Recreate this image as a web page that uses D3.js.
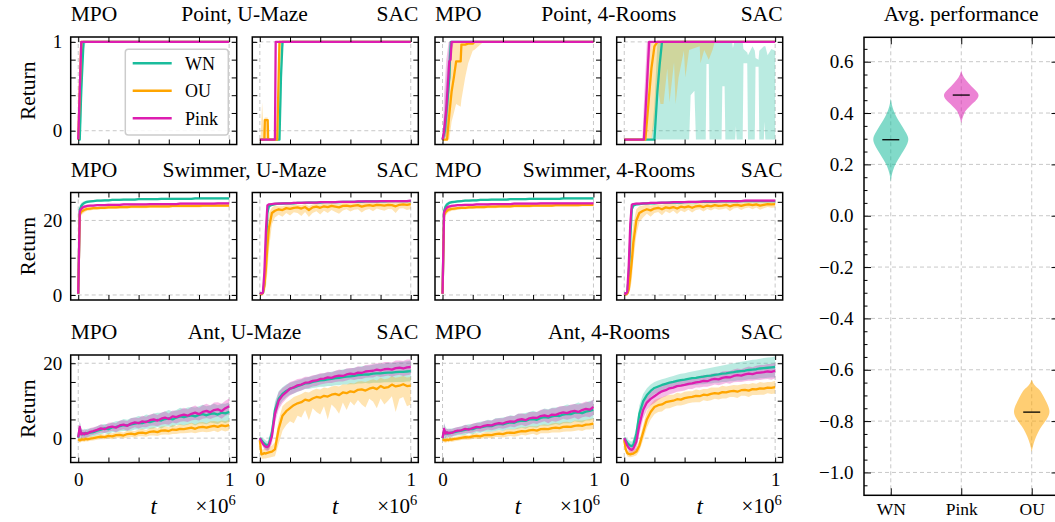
<!DOCTYPE html>
<html><head><meta charset="utf-8">
<script src="https://cdn.jsdelivr.net/npm/d3@7"></script>
<style>
body{margin:0;background:#fff;}
svg text{font-family:"Liberation Serif","Times New Roman",serif;fill:#000;}
</style></head><body>
<svg id="c" width="1055" height="522"></svg>
<script>
// ---------------- DATA ----------------
const seriesNames = ["WN", "OU", "Pink"];
const violinCats = ["WN", "Pink", "OU"];
const envTitles = [["Point, U-Maze", "Point, 4-Rooms"], ["Swimmer, U-Maze", "Swimmer, 4-Rooms"], ["Ant, U-Maze", "Ant, 4-Rooms"]];
const algoLeft = "MPO", algoRight = "SAC";
const rowTicks = [[0,0.2,0.4,0.6,0.8,1],[0,5,10,15,20,25],[-5,0,5,10,15,20]];
const rowLabels = [[0,1],[0,20],[0,20]];
const xTicks = [0,0.2,0.4,0.6,0.8,1];
const xLabels = [0,1];
const violinMajor = [-1.0,-0.8,-0.6,-0.4,-0.2,0.0,0.2,0.4,0.6];

// Point panels: rows [t, mean, lo, hi]
const ptUmMpoWN = [[0,-0.1,-0.1,-0.1],[0.01,-0.1,-0.1,0.2],[0.02,0.45,0.1,0.9],[0.035,1,0.9,1],[0.05,1,1,1],[1,1,1,1]];
const ptUmMpoOU = [[0,-0.1,-0.1,-0.1],[0.02,1,0.9,1],[0.03,1,1,1],[1,1,1,1]];
const ptUmMpoPink = [[0,-0.1,-0.1,-0.1],[0.02,1,1,1],[1,1,1,1]];

const ptUmSacWN = [[0,-0.1,-0.1,-0.1],[0.12,-0.1,-0.1,-0.1],[0.13,-0.1,-0.1,0.4],[0.14,0.6,0.2,1],[0.15,1,0.9,1],[0.16,1,1,1],[1,1,1,1]];
const ptUmSacOU = [[0,-0.1,-0.1,-0.1],[0.005,-0.1,-0.1,-0.1],[0.015,-0.1,-0.1,0.32],[0.025,-0.1,-0.1,0.0],[0.03,-0.1,-0.1,0.14],[0.033,0.12,-0.1,0.15],[0.052,0.12,-0.1,0.15],[0.055,-0.1,-0.1,-0.1],[0.115,-0.1,-0.1,-0.1],[0.13,1,0.6,1],[0.14,1,1,1],[1,1,1,1]];
const ptUmSacPink = [[0,-0.1,-0.1,-0.1],[0.1,-0.1,-0.1,-0.1],[0.105,1,1,1],[1,1,1,1]];

const ptFrMpoWN = [[0,-0.1,-0.1,-0.1],[0.015,0.0,-0.1,0.3],[0.03,0.3,0.0,0.7],[0.045,0.6,0.3,1],[0.05,0.85,0.6,1],[0.056,1,0.9,1],[0.07,1,1,1],[1,1,1,1]];
const ptFrMpoOU = [[0,-0.1,-0.1,-0.1],[0.03,-0.1,-0.1,0.3],[0.045,0.19,-0.1,0.7],[0.06,0.44,0.1,0.95],[0.075,0.6,0.2,1],[0.09,0.78,0.3,1],[0.12,0.78,0.27,1],[0.125,0.97,0.35,1],[0.15,0.97,0.6,1],[0.17,0.98,0.76,1],[0.2,0.98,0.9,1],[0.21,1,0.91,1],[0.27,1,1,1],[1,1,1,1]];
const ptFrMpoPink = [[0,-0.1,-0.1,-0.1],[0.01,0.0,-0.1,0.4],[0.025,0.25,-0.05,0.8],[0.04,0.65,0.3,1],[0.045,0.78,0.5,1],[0.053,0.8,0.6,1],[0.06,1,0.9,1],[0.075,1,1,1],[1,1,1,1]];

const ptFrSacWN = [[0,-0.1,-0.1,-0.1],[0.18,-0.1,-0.1,-0.1],[0.2,-0.1,-0.1,0.3],[0.22,0.45,-0.1,1],[0.235,0.75,-0.1,1],[0.25,1,-0.1,1],
 [0.43,1,-0.1,1],[0.44,1,0.4,1],[0.465,1,0.45,1],[0.475,1,-0.1,1],
 [0.54,1,-0.1,1],[0.545,1,0.75,1],[0.56,1,0.75,1],[0.565,1,-0.1,1],
 [0.645,1,-0.1,1],[0.65,1,0.5,1],[0.665,1,0.5,1],[0.67,1,-0.1,1],
 [0.715,1,-0.1,1],[0.72,1,-0.1,0.93],[0.73,1,-0.1,1],
 [0.735,1,-0.1,1],[0.74,1,0.05,1],[0.745,1,-0.1,1],
 [0.785,1,-0.1,1],[0.79,1,0.76,0.92],[0.815,1,0.76,0.88],[0.82,1,-0.1,0.85],
 [0.85,1,-0.1,0.95],[0.865,1,-0.1,0.9],[0.87,1,0.72,0.82],[0.89,1,0.72,0.8],[0.895,1,-0.1,0.9],
 [0.925,1,-0.1,0.95],[0.93,1,0.1,0.95],[0.935,1,-0.1,0.95],[0.95,1,-0.1,0.85],[0.975,1,-0.1,0.92],[1,1,-0.1,0.9]];
const ptFrSacOU = [[0,-0.1,-0.1,-0.1],[0.14,-0.1,-0.1,-0.1],[0.16,0.3,-0.1,0.8],[0.18,0.7,-0.1,1],[0.2,0.95,0.1,1],[0.22,1,0.5,1],[0.24,1,0.3,1],[0.26,1,0.3,1],[0.285,1,0.7,1],[0.3,1,0.32,1],[0.33,1,0.77,1],[0.34,1,0.3,1],[0.36,1,0.6,1],[0.395,1,0.9,1],[0.405,1,0.6,1],[0.43,1,0.91,1],[0.5,1,0.95,1],[0.505,1,0.76,1],[0.53,1,0.91,1],[0.56,1,0.8,1],[0.585,1,0.91,1],[0.6,1,1,1],[1,1,1,1]];
const ptFrSacPink = [[0,-0.1,-0.1,-0.1],[0.12,-0.1,-0.1,-0.1],[0.13,-0.1,-0.1,0.3],[0.15,0.5,0.1,1],[0.165,1,0.8,1],[0.18,1,1,1],[1,1,1,1]];

// Swimmer / Ant panels share this time grid (x 1e6)
const tGrid = [0,0.01,0.02,0.03,0.04,0.05,0.06,0.08,0.1,
 0.125,0.15,0.175,0.2,0.225,0.25,0.275,0.3,0.325,0.35,0.375,0.4,
 0.425,0.45,0.475,0.5,0.525,0.55,0.575,0.6,0.625,0.65,0.675,0.7,
 0.725,0.75,0.775,0.8,0.825,0.85,0.875,0.9,0.925,0.95,0.975,1];

// Swimmer, MPO
const swUmMpoWN = [0.3,22.8,23.9,24.4,24.7,24.9,25.0,25.1,25.2,
 25.3,25.3,25.4,25.4,25.5,25.5,25.5,25.6,25.6,25.6,25.6,25.7,
 25.7,25.7,25.7,25.7,25.7,25.8,25.8,25.8,25.8,25.8,25.8,25.8,
 25.8,25.8,25.9,25.9,25.9,25.9,25.9,25.9,25.9,25.9,25.9,25.9];
const swUmMpoPink = [0.3,22.4,23.1,23.5,23.7,23.8,23.9,24.0,24.0,
 24.1,24.1,24.1,24.2,24.2,24.2,24.2,24.3,24.3,24.3,24.3,24.3,
 24.3,24.3,24.4,24.4,24.4,24.4,24.4,24.4,24.4,24.4,24.5,24.5,
 24.5,24.5,24.5,24.5,24.5,24.5,24.5,24.5,24.6,24.6,24.6,24.6];
const swUmMpoOU = [0.3,21.6,22.3,22.6,22.8,23.0,23.1,23.2,23.3,
 23.3,23.4,23.4,23.5,23.5,23.5,23.6,23.6,23.6,23.7,23.7,23.7,
 23.7,23.7,23.8,23.8,23.8,23.8,23.8,23.8,23.9,23.9,23.9,23.9,
 23.9,23.9,23.9,23.9,24.0,24.0,24.0,24.0,24.0,24.0,24.0,24.0];
const swFrMpoWN = [0.3,22.5,23.7,24.3,24.6,24.8,24.9,25.0,25.1,
 25.2,25.3,25.3,25.4,25.4,25.5,25.5,25.5,25.6,25.6,25.6,25.6,
 25.6,25.7,25.7,25.7,25.7,25.7,25.8,25.8,25.8,25.8,25.8,25.8,
 25.8,25.8,25.8,25.9,25.9,25.9,25.9,25.9,25.9,25.9,25.9,25.9];
const swFrMpoPink = [0.3,22.2,23.0,23.5,23.7,23.8,23.9,24.0,24.1,
 24.1,24.2,24.2,24.2,24.3,24.3,24.3,24.3,24.4,24.4,24.4,24.4,
 24.4,24.4,24.5,24.5,24.5,24.5,24.5,24.5,24.5,24.6,24.6,24.6,
 24.6,24.6,24.6,24.6,24.6,24.6,24.6,24.6,24.6,24.6,24.6,24.6];
const swFrMpoOU = [0.3,21.4,22.2,22.6,22.9,23.0,23.1,23.2,23.3,
 23.4,23.4,23.5,23.5,23.6,23.6,23.6,23.7,23.7,23.7,23.8,23.8,
 23.8,23.8,23.9,23.9,23.9,23.9,23.9,24.0,24.0,24.0,24.0,24.0,
 24.0,24.1,24.1,24.1,24.1,24.1,24.1,24.1,24.2,24.2,24.2,24.2];
const swMpoWNsp = [0.2,1.2,0.8,0.6,0.5,0.4,0.4,0.3,0.3,
 0.3,0.3,0.3,0.3,0.3,0.3,0.3,0.3,0.3,0.3,0.3,0.3,
 0.3,0.3,0.3,0.3,0.3,0.3,0.3,0.3,0.3,0.3,0.3,0.3,
 0.3,0.3,0.3,0.3,0.3,0.3,0.3,0.3,0.3,0.3,0.3,0.3];
const swMpoPinkSp = [0.2,1.0,0.7,0.5,0.4,0.4,0.3,0.3,0.3,
 0.3,0.3,0.3,0.3,0.3,0.3,0.3,0.3,0.3,0.3,0.3,0.3,
 0.3,0.3,0.3,0.3,0.3,0.3,0.3,0.3,0.3,0.3,0.3,0.3,
 0.3,0.3,0.3,0.3,0.3,0.3,0.3,0.3,0.3,0.3,0.3,0.3];
const swMpoOUsp = [0.2,1.2,1.0,0.8,0.7,0.6,0.5,0.5,0.4,
 0.4,0.4,0.4,0.4,0.4,0.4,0.4,0.4,0.4,0.4,0.4,0.4,
 0.4,0.4,0.4,0.4,0.4,0.4,0.4,0.4,0.4,0.4,0.4,0.4,
 0.4,0.4,0.4,0.4,0.4,0.4,0.4,0.4,0.4,0.4,0.4,0.4];

// Swimmer, SAC
const swUmSacPink = [0.6,0.4,0.6,6.0,17.0,24.0,24.3,24.4,24.5,
 24.5,24.6,24.6,24.6,24.7,24.7,24.7,24.8,24.8,24.8,24.8,24.9,
 24.9,24.9,24.9,24.9,25.0,25.0,25.0,25.0,25.0,25.1,25.1,25.1,
 25.1,25.1,25.1,25.2,25.2,25.2,25.2,25.2,25.2,25.2,25.2,25.3];
const swUmSacWN = [0.6,0.4,0.5,3.0,12.0,22.0,23.8,24.2,24.4,
 24.5,24.5,24.6,24.6,24.6,24.7,24.7,24.7,24.8,24.8,24.8,24.8,
 24.9,24.9,24.9,24.9,24.9,25.0,25.0,25.0,25.0,25.0,25.0,25.1,
 25.1,25.1,25.1,25.1,25.1,25.2,25.2,25.2,25.2,25.2,25.2,25.2];
const swUmSacOU = [0.3,0.2,0.5,2.5,7.0,13.0,18.0,22.0,22.6,
 23.0,22.8,23.3,23.1,23.4,23.5,23.2,23.6,22.8,23.5,23.7,23.4,
 23.8,23.6,23.9,23.7,23.5,23.9,24.0,23.8,24.0,24.1,23.7,24.0,
 24.1,23.9,24.2,24.1,24.0,24.2,24.1,23.8,24.2,24.3,24.2,24.4];
const swUmSacOUlo = [0.1,0.1,0.2,0.5,2.0,6.0,12.0,19.0,20.8,
 21.5,21.0,22.0,21.3,22.2,22.0,21.2,22.3,20.9,22.0,22.5,21.6,
 22.6,22.0,22.8,22.3,21.8,22.7,23.0,22.4,22.9,23.0,22.1,22.8,
 23.1,22.5,23.2,22.9,22.6,23.1,23.0,22.0,23.2,23.3,22.8,23.1];
const swUmSacOUhi = [0.5,0.4,1.5,6.0,12.0,19.0,22.0,23.5,24.0,
 23.8,23.8,24.1,24.0,24.2,24.3,24.1,24.4,23.9,24.3,24.5,24.3,
 24.6,24.5,24.7,24.6,24.4,24.7,24.8,24.7,24.8,24.9,24.6,24.8,
 24.9,24.8,25.0,24.9,24.9,25.0,25.0,24.8,25.0,25.1,25.0,25.1];
const swFrSacPink = [0.5,0.3,0.8,8.0,19.0,24.2,24.4,24.5,24.5,
 24.6,24.6,24.7,24.7,24.7,24.8,24.8,24.8,24.9,24.9,24.9,24.9,
 25.0,25.0,25.0,25.0,25.1,25.1,25.1,25.1,25.1,25.2,25.2,25.2,
 25.2,25.2,25.2,25.3,25.3,25.3,25.3,25.3,25.3,25.3,25.3,25.3];
const swFrSacWN = [0.5,0.3,0.6,5.0,15.0,23.0,24.0,24.3,24.4,
 24.5,24.6,24.6,24.6,24.7,24.7,24.7,24.8,24.8,24.8,24.8,24.9,
 24.9,24.9,24.9,25.0,25.0,25.0,25.0,25.0,25.1,25.1,25.1,25.1,
 25.1,25.1,25.2,25.2,25.2,25.2,25.2,25.2,25.2,25.2,25.2,25.2];
const swFrSacOU = [0.2,0.1,0.4,1.5,5.0,9.0,14.0,20.0,22.0,
 22.6,23.0,22.7,23.2,23.4,23.0,23.5,23.3,23.6,23.2,23.7,23.5,
 23.8,23.4,23.8,23.9,23.6,24.0,23.8,24.1,23.9,24.0,24.2,23.8,
 24.1,24.2,23.9,24.2,24.3,24.1,24.3,24.0,24.2,24.4,24.3,24.4];
const swFrSacOUlo = [0.0,0.0,0.1,0.3,1.5,4.0,9.0,16.0,19.5,
 20.8,21.8,21.0,22.0,22.3,21.4,22.5,21.9,22.6,21.7,22.7,22.2,
 22.9,22.1,22.8,23.0,22.4,23.1,22.7,23.2,22.9,23.0,23.3,22.5,
 23.2,23.4,22.8,23.3,23.5,23.0,23.5,22.9,23.3,23.6,23.4,23.5];
const swFrSacOUhi = [0.5,0.4,1.2,4.0,10.0,15.0,19.0,23.0,23.8,
 24.0,24.2,24.0,24.3,24.4,24.2,24.5,24.4,24.6,24.3,24.6,24.5,
 24.7,24.5,24.7,24.8,24.6,24.9,24.7,24.9,24.8,24.9,25.0,24.7,
 24.9,25.0,24.8,25.0,25.1,24.9,25.1,24.9,25.0,25.2,25.1,25.2];
const swSacPinkSp = [0.2,0.2,0.3,2.0,3.0,0.5,0.3,0.3,0.3,
 0.3,0.3,0.3,0.3,0.3,0.3,0.3,0.3,0.3,0.3,0.3,0.3,
 0.3,0.3,0.3,0.3,0.3,0.3,0.3,0.3,0.3,0.3,0.3,0.3,
 0.3,0.3,0.3,0.3,0.3,0.3,0.3,0.3,0.3,0.3,0.3,0.3];
const swSacWNsp = [0.2,0.2,0.3,2.5,4.0,1.5,0.5,0.3,0.3,
 0.3,0.3,0.3,0.3,0.3,0.3,0.3,0.3,0.3,0.3,0.3,0.3,
 0.3,0.3,0.3,0.3,0.3,0.3,0.3,0.3,0.3,0.3,0.3,0.3,
 0.3,0.3,0.3,0.3,0.3,0.3,0.3,0.3,0.3,0.3,0.3,0.3];

// Ant, MPO
const antUmMpoPink = [0.2,3.0,1.0,1.3,1.0,1.4,1.2,1.7,1.9,
 2.2,2.6,2.4,2.9,3.1,2.8,3.4,3.6,3.3,3.9,4.2,4.0,
 4.5,4.3,4.8,5.0,4.7,5.2,5.5,5.1,5.8,5.6,6.0,6.3,
 6.0,6.5,6.8,6.4,7.0,7.3,6.9,7.5,7.7,7.2,8.0,8.5];
const antUmMpoWN = [0.1,2.5,1.2,1.0,1.3,1.1,1.4,1.5,1.6,
 2.0,2.3,2.6,2.4,2.9,3.0,3.2,3.5,3.4,3.7,3.9,4.1,
 4.0,4.4,4.3,4.6,4.9,4.7,5.1,5.3,5.0,5.5,5.8,5.6,
 5.9,6.1,5.8,6.2,6.4,6.1,6.5,6.6,6.3,6.8,6.6,7.0];
const antUmMpoOU = [-0.3,-0.6,-0.4,-0.3,-0.4,-0.2,-0.3,-0.1,0.0,
 0.2,0.4,0.3,0.6,0.5,0.8,0.9,0.7,1.1,1.2,1.0,1.4,
 1.5,1.3,1.7,1.8,1.6,2.0,2.1,1.9,2.3,2.2,2.5,2.4,
 2.6,2.8,2.5,2.9,3.0,2.8,3.1,3.3,3.0,3.4,3.2,3.5];
const antFrMpoPink = [0.0,2.5,1.2,1.6,1.3,1.5,1.4,1.8,2.0,
 2.1,2.5,2.3,2.7,3.0,2.9,3.3,3.5,3.4,3.8,4.0,3.9,
 4.3,4.5,4.4,4.9,5.1,4.8,5.3,5.5,5.4,5.9,6.1,5.8,
 6.3,6.2,6.6,6.9,6.7,7.1,7.3,7.0,7.5,7.8,7.6,8.3];
const antFrMpoWN = [0.0,2.0,1.5,1.2,1.4,1.3,1.5,1.6,1.8,
 2.0,2.2,2.5,2.4,2.8,2.9,3.1,3.3,3.2,3.6,3.8,3.7,
 4.0,4.2,4.1,4.5,4.7,4.6,5.0,5.1,4.9,5.4,5.6,5.5,
 5.8,6.0,5.9,6.3,6.5,6.4,6.8,6.9,6.7,7.1,7.3,7.6];
const antFrMpoOU = [-0.4,-0.5,-0.6,-0.4,-0.5,-0.3,-0.4,-0.2,-0.1,
 0.1,0.3,0.2,0.5,0.6,0.5,0.8,0.9,0.8,1.1,1.2,1.1,
 1.4,1.5,1.4,1.7,1.9,1.8,2.1,2.2,2.0,2.4,2.5,2.4,
 2.7,2.8,2.7,3.0,3.1,3.0,3.3,3.4,3.3,3.6,3.7,3.9];
const antMpoPinkSp = [0.5,1.5,1.2,1.0,1.0,1.0,1.0,1.0,1.0,
 1.0,1.1,1.0,1.2,1.1,1.2,1.3,1.2,1.3,1.4,1.3,1.4,
 1.5,1.4,1.5,1.6,1.5,1.6,1.7,1.5,1.6,1.7,1.6,1.8,
 1.7,1.8,1.9,1.7,1.8,1.9,1.8,2.0,1.9,2.0,2.0,2.1];
const antMpoWNsp = [0.5,2.0,1.5,1.2,1.2,1.2,1.1,1.1,1.1,
 1.2,1.3,1.2,1.4,1.3,1.5,1.4,1.6,1.5,1.7,1.6,1.8,
 1.7,1.9,1.8,2.0,1.9,2.1,2.0,2.2,2.1,2.0,2.3,2.2,
 2.3,2.2,2.4,2.3,2.5,2.4,2.3,2.6,2.5,2.4,2.6,2.5];
const antMpoOUsp = [0.4,0.6,0.6,0.6,0.6,0.6,0.6,0.6,0.6,
 0.6,0.7,0.6,0.7,0.8,0.7,0.8,0.8,0.9,0.8,0.9,0.9,
 1.0,0.9,1.0,1.1,1.0,1.1,1.1,1.0,1.2,1.1,1.2,1.1,
 1.2,1.3,1.2,1.3,1.3,1.2,1.4,1.3,1.4,1.3,1.4,1.4];

// Ant, SAC
const antUmSacPink = [0.0,-0.8,-1.5,-2.0,-2.3,-2.4,-2.0,0.5,6.5,
 10.0,11.4,12.3,13.2,13.6,14.1,14.3,14.8,14.9,15.3,15.4,15.8,
 15.9,16.2,16.1,16.5,16.7,16.6,17.0,17.2,17.1,17.5,17.4,17.8,
 17.9,18.0,18.3,18.1,18.4,18.5,18.3,18.7,18.8,18.6,18.9,19.0];
const antUmSacWN = [0.0,-0.5,-1.0,-1.5,-1.8,-2.0,-1.6,1.5,7.5,
 10.5,11.8,12.6,13.2,13.5,13.9,14.2,14.6,14.7,15.0,15.2,15.4,
 15.5,15.7,15.8,16.0,16.1,16.3,16.4,16.5,16.6,16.8,16.9,17.0,
 17.0,17.2,17.3,17.3,17.4,17.5,17.5,17.6,17.7,17.7,17.8,17.9];
const antUmSacOU = [-0.5,-4.3,-4.2,-4.0,-4.1,-3.9,-3.8,-3.6,-3.0,
 2.5,6.0,7.2,8.0,8.8,9.3,9.6,10.3,10.0,10.6,11.0,10.8,
 11.3,11.1,11.6,11.8,11.5,12.2,12.0,12.5,12.3,12.9,13.0,12.7,
 13.2,13.5,13.1,13.9,13.4,13.6,14.3,13.8,14.0,14.4,13.9,14.0];
const antUmSacOUlo = [-1.0,-5.5,-5.5,-5.4,-5.4,-5.3,-5.2,-5.0,-4.8,
 -1.5,2.0,3.5,4.5,4.0,6.0,5.5,7.5,4.8,8.0,7.0,6.3,
 8.5,5.0,9.0,8.0,6.5,9.5,7.5,9.8,8.7,10.2,9.0,8.2,
 10.5,9.8,8.0,10.6,9.0,10.0,11.2,7.0,10.5,11.0,8.5,9.0];
const antUmSacOUhi = [0.0,-3.0,-3.0,-2.8,-2.8,-2.6,-2.4,-2.0,-1.0,
 5.0,8.5,9.5,10.2,11.0,11.4,11.8,12.4,12.2,12.8,13.2,13.0,
 13.5,13.3,13.8,14.0,13.8,14.4,14.3,14.7,14.6,15.1,15.2,15.0,
 15.4,15.7,15.4,16.1,15.7,15.9,16.5,16.1,16.3,16.6,16.2,16.3];
const antFrSacWN = [0.0,-0.6,-1.2,-1.7,-2.0,-2.1,-1.8,1.0,6.5,
 9.8,11.5,12.6,13.4,13.8,14.2,14.5,14.8,15.0,15.3,15.5,15.6,
 15.8,16.0,16.1,16.3,16.4,16.6,16.7,16.9,17.0,17.2,17.3,17.5,
 17.6,17.8,17.9,18.0,18.2,18.3,18.4,18.6,18.7,18.8,18.9,19.0];
const antFrSacPink = [0.0,-1.0,-2.0,-2.6,-3.0,-3.1,-2.8,-1.0,3.5,
 7.5,9.5,10.5,11.2,11.9,12.5,12.8,13.3,13.5,13.9,14.0,14.2,
 14.5,14.6,14.9,15.0,15.3,15.2,15.6,15.8,15.7,16.1,16.3,16.2,
 16.6,16.8,16.7,17.0,17.2,17.1,17.4,17.5,17.6,17.8,17.7,18.0];
const antFrSacOU = [-0.5,-3.0,-4.0,-4.2,-4.3,-4.2,-4.1,-3.6,-2.0,
 1.5,5.0,7.0,8.3,8.8,9.0,9.6,9.8,10.0,10.4,10.3,10.7,
 10.9,11.0,11.3,11.2,11.6,11.5,11.8,12.0,11.9,12.3,12.2,12.5,
 12.6,12.4,12.8,12.9,12.7,13.1,13.0,13.3,13.2,13.5,13.4,13.6];
const antSacPinkSp = [0.3,0.6,0.8,1.0,1.0,1.0,1.2,2.0,2.5,
 2.3,2.0,1.8,1.8,1.7,1.7,1.6,1.6,1.5,1.5,1.5,1.5,
 1.4,1.5,1.4,1.5,1.6,1.5,1.6,1.5,1.6,1.7,1.6,1.7,
 1.7,1.8,1.7,1.8,1.9,1.8,1.9,2.0,1.9,2.0,2.1,2.0];
const antSacWNsp = [0.5,0.8,1.0,1.2,1.2,1.2,1.5,2.0,2.2,
 2.0,1.8,1.7,1.6,1.6,1.5,1.5,1.5,1.6,1.6,1.7,1.7,
 1.8,1.8,1.9,1.9,2.0,2.0,2.1,2.1,2.2,2.2,2.3,2.3,
 2.4,2.4,2.5,2.5,2.5,2.6,2.6,2.6,2.7,2.7,2.7,2.8];
const antSacOUsp = [0.5,0.8,0.8,0.8,0.8,0.8,0.8,1.0,1.5,
 2.0,2.2,2.0,1.9,1.8,1.9,1.7,1.8,1.6,1.7,1.6,1.7,
 1.6,1.5,1.7,1.6,1.5,1.6,1.7,1.5,1.6,1.7,1.6,1.5,
 1.6,1.7,1.5,1.6,1.7,1.6,1.5,1.7,1.6,1.5,1.6,1.7];

// Violin profiles: [value, relative half-width]
const violinWN = [[0.457,0],[0.43,0.06],[0.41,0.15],[0.39,0.28],[0.373,0.4],[0.347,0.65],[0.32,0.88],[0.30,1.0],[0.282,0.94],[0.256,0.74],[0.23,0.5],[0.204,0.28],[0.178,0.12],[0.155,0.04],[0.132,0]];
const violinPink = [[0.568,0],[0.55,0.05],[0.528,0.25],[0.503,0.57],[0.485,0.85],[0.47,1.0],[0.455,0.9],[0.444,0.75],[0.425,0.45],[0.41,0.25],[0.399,0.16],[0.38,0.06],[0.36,0]];
const violinOU = [[-0.638,0],[-0.66,0.12],[-0.677,0.45],[-0.7,0.62],[-0.715,0.74],[-0.74,0.92],[-0.76,1.0],[-0.775,0.97],[-0.792,0.85],[-0.818,0.56],[-0.844,0.34],[-0.876,0.15],[-0.9,0.06],[-0.92,0]];
const violinMedians = [0.296, 0.47, -0.765];

// ---------------- DRAWING ----------------
const FONT = "'Liberation Serif','Times New Roman',serif";
const colors = {WN:"#1abc9c", OU:"#ffa500", Pink:"#dd1db0"};
const svg = d3.select("#c");
const gridColor = "#c8c8c8";
const colX = [70.7, 252.3, 435, 616.7];
const panelW = 166, panelH = 107.5;
const rowY = [37, 192.5, 355];
const rowDomain = [[-0.155,1.055],[-1.35,27.5],[-6.5,22.2]];
const FS_TITLE = 21.5, FS_TICK = 19;

const pts = a => a;
const grid = (m, sp) => tGrid.map((t,i)=>[t, m[i], m[i]-sp[i], m[i]+sp[i]]);
const gridLH = (m, lo, hi) => tGrid.map((t,i)=>[t, m[i], lo[i], hi[i]]);

const panels = [
 {row:0,col:0, WN:pts(ptUmMpoWN), OU:pts(ptUmMpoOU), Pink:pts(ptUmMpoPink)},
 {row:0,col:1, WN:pts(ptUmSacWN), OU:pts(ptUmSacOU), Pink:pts(ptUmSacPink)},
 {row:0,col:2, WN:pts(ptFrMpoWN), OU:pts(ptFrMpoOU), Pink:pts(ptFrMpoPink)},
 {row:0,col:3, WN:pts(ptFrSacWN), OU:pts(ptFrSacOU), Pink:pts(ptFrSacPink)},
 {row:1,col:0, WN:grid(swUmMpoWN,swMpoWNsp), OU:grid(swUmMpoOU,swMpoOUsp), Pink:grid(swUmMpoPink,swMpoPinkSp)},
 {row:1,col:1, WN:grid(swUmSacWN,swSacWNsp), OU:gridLH(swUmSacOU,swUmSacOUlo,swUmSacOUhi), Pink:grid(swUmSacPink,swSacPinkSp)},
 {row:1,col:2, WN:grid(swFrMpoWN,swMpoWNsp), OU:grid(swFrMpoOU,swMpoOUsp), Pink:grid(swFrMpoPink,swMpoPinkSp)},
 {row:1,col:3, WN:grid(swFrSacWN,swSacWNsp), OU:gridLH(swFrSacOU,swFrSacOUlo,swFrSacOUhi), Pink:grid(swFrSacPink,swSacPinkSp)},
 {row:2,col:0, WN:grid(antUmMpoWN,antMpoWNsp), OU:grid(antUmMpoOU,antMpoOUsp), Pink:grid(antUmMpoPink,antMpoPinkSp)},
 {row:2,col:1, WN:grid(antUmSacWN,antSacWNsp), OU:gridLH(antUmSacOU,antUmSacOUlo,antUmSacOUhi), Pink:grid(antUmSacPink,antSacPinkSp)},
 {row:2,col:2, WN:grid(antFrMpoWN,antMpoWNsp), OU:grid(antFrMpoOU,antMpoOUsp), Pink:grid(antFrMpoPink,antMpoPinkSp)},
 {row:2,col:3, WN:grid(antFrSacWN,antSacWNsp), OU:grid(antFrSacOU,antSacOUsp), Pink:grid(antFrSacPink,antSacPinkSp)}
];

function styleAxis(sel, fs){
  sel.select(".domain").remove();
  sel.selectAll(".tick line").attr("stroke","#000").attr("stroke-width",1);
  sel.attr("font-family",null).attr("font-size",null);
  sel.selectAll("text").style("font-family",FONT).style("font-size",fs+"px").attr("fill","#000");
}

const defs = svg.append("defs");
panels.forEach((p, idx) => {
  const x0 = colX[p.col], y0 = rowY[p.row];
  const x = d3.scaleLinear().domain([-0.05,1.05]).range([x0, x0+panelW]);
  const y = d3.scaleLinear().domain(rowDomain[p.row]).range([y0+panelH, y0]);
  const g = svg.append("g");
  const cid = "clip"+idx;
  defs.append("clipPath").attr("id",cid).append("rect").attr("x",x0).attr("y",y0).attr("width",panelW).attr("height",panelH);
  g.selectAll("line.gx").data(xLabels).join("line").attr("class","gx")
    .attr("x1",d=>x(d)).attr("x2",d=>x(d)).attr("y1",y0).attr("y2",y0+panelH)
    .attr("stroke",gridColor).attr("stroke-width",1).attr("stroke-dasharray","4,3");
  g.selectAll("line.gy").data(rowLabels[p.row]).join("line").attr("class","gy")
    .attr("y1",d=>y(d)).attr("y2",d=>y(d)).attr("x1",x0).attr("x2",x0+panelW)
    .attr("stroke",gridColor).attr("stroke-width",1).attr("stroke-dasharray","4,3");
  const plot = g.append("g").attr("clip-path",`url(#${cid})`);
  const area = d3.area().x(d=>x(d[0])).y0(d=>y(d[2])).y1(d=>y(d[3]));
  const line = d3.line().x(d=>x(d[0])).y(d=>y(d[1]));
  seriesNames.forEach(k => {
    plot.append("path").datum(p[k]).attr("d",area).attr("fill",colors[k]).attr("fill-opacity",0.3).attr("stroke","none");
  });
  seriesNames.forEach(k => {
    plot.append("path").datum(p[k]).attr("d",line).attr("fill","none").attr("stroke",colors[k])
      .attr("stroke-width",2.3).attr("stroke-linejoin","round");
  });
  const fmtY = d => (p.col===0 && rowLabels[p.row].includes(d)) ? String(d) : "";
  const fmtX = d => (p.row===2 && xLabels.includes(d)) ? String(d) : "";
  g.append("g").attr("transform",`translate(${x0},0)`)
    .call(d3.axisLeft(y).tickValues(rowTicks[p.row]).tickSize(-5).tickPadding(8.5).tickFormat(fmtY))
    .call(s=>styleAxis(s,FS_TICK));
  g.append("g").attr("transform",`translate(${x0+panelW},0)`)
    .call(d3.axisRight(y).tickValues(rowTicks[p.row]).tickSize(-5).tickFormat(()=>""))
    .call(s=>styleAxis(s,FS_TICK));
  g.append("g").attr("transform",`translate(0,${y0})`)
    .call(d3.axisTop(x).tickValues(xTicks).tickSize(-5).tickFormat(()=>""))
    .call(s=>styleAxis(s,FS_TICK));
  g.append("g").attr("transform",`translate(0,${y0+panelH})`)
    .call(d3.axisBottom(x).tickValues(xTicks).tickSize(-5).tickPadding(10).tickFormat(fmtX))
    .call(s=>styleAxis(s,FS_TICK));
  g.append("rect").attr("x",x0).attr("y",y0).attr("width",panelW).attr("height",panelH)
    .attr("fill","none").attr("stroke","#000").attr("stroke-width",1.5);
  if (p.row===2) {
    svg.append("text").attr("x",x0+panelW/2).attr("y",514).attr("text-anchor","middle")
      .style("font-size","23px").style("font-style","italic").text("t");
    const tx = svg.append("text").attr("x",x0+panelW-1).attr("y",512.5).attr("text-anchor","end").style("font-size","21px");
    tx.append("tspan").text("×10");
    tx.append("tspan").attr("dy",-8).style("font-size","14.5px").text("6");
  }
  if (p.col===0) {
    svg.append("text").attr("transform",`translate(35,${y0+panelH/2}) rotate(-90)`)
      .attr("text-anchor","middle").style("font-size",FS_TITLE+"px").text("Return");
  }
});

envTitles.forEach((pair, r) => {
  pair.forEach((name, j) => {
    const left = colX[2*j], right = colX[2*j+1]+panelW, ty = rowY[r]-16;
    svg.append("text").attr("x",left).attr("y",ty).attr("text-anchor","start").style("font-size",FS_TITLE+"px").text(algoLeft);
    svg.append("text").attr("x",(left+right)/2).attr("y",ty).attr("text-anchor","middle").style("font-size",FS_TITLE+"px").text(name);
    svg.append("text").attr("x",right).attr("y",ty).attr("text-anchor","end").style("font-size",FS_TITLE+"px").text(algoRight);
  });
});

{
  const lg = svg.append("g");
  lg.append("rect").attr("x",125.3).attr("y",49.3).attr("width",103).attr("height",85.7).attr("rx",3)
    .attr("fill","#fff").attr("fill-opacity",0.85).attr("stroke","#cccccc").attr("stroke-width",1.5);
  ["WN","OU","Pink"].forEach((k,i) => {
    const yy = 63.3 + i*27.5;
    lg.append("line").attr("x1",132.7).attr("x2",171.7).attr("y1",yy).attr("y2",yy).attr("stroke",colors[k]).attr("stroke-width",2.5);
    lg.append("text").attr("x",185).attr("y",yy).attr("dy","0.35em").style("font-size","18px").text(k);
  });
}

{
  const vTop = 37.3, vBot = 495.3, vLeft = 864, vRight = 1058.5;
  const vy = d3.scaleLinear().domain([-1.089,0.695]).range([vBot, vTop]);
  const vx = d3.scalePoint().domain(violinCats).range([vLeft, vRight]).padding(0.38);
  const vw = d3.scaleLinear().domain([0,1]).range([0,18]);
  const g = svg.append("g");
  g.selectAll("line.vgx").data(violinCats).join("line").attr("class","vgx")
    .attr("x1",d=>vx(d)).attr("x2",d=>vx(d)).attr("y1",vTop).attr("y2",vBot)
    .attr("stroke",gridColor).attr("stroke-dasharray","4,3");
  g.selectAll("line.vgy").data(violinMajor).join("line").attr("class","vgy")
    .attr("y1",d=>vy(d)).attr("y2",d=>vy(d)).attr("x1",vLeft).attr("x2",vRight)
    .attr("stroke",gridColor).attr("stroke-dasharray","4,3");
  const profiles = {WN:violinWN, Pink:violinPink, OU:violinOU};
  violinCats.forEach((k,i) => {
    const cx = vx(k);
    const area = d3.area().curve(d3.curveBasis).y(d=>vy(d[0])).x0(d=>cx - vw(d[1])).x1(d=>cx + vw(d[1]));
    g.append("path").datum(profiles[k]).attr("d",area).attr("fill",colors[k]).attr("fill-opacity",0.55).attr("stroke","none");
    g.append("line").attr("x1",cx-8.5).attr("x2",cx+8.5).attr("y1",vy(violinMedians[i])).attr("y2",vy(violinMedians[i]))
      .attr("stroke","#000").attr("stroke-width",1.3);
  });
  const minor = d3.range(-21,14).map(i=>i*0.05).filter(v=>Math.abs(Math.round(v*5)-v*5)>1e-6);
  const fmt = d3.format(".1f");
  g.append("g").attr("transform",`translate(${vLeft},0)`)
    .call(d3.axisLeft(vy).tickValues(violinMajor).tickSize(-7).tickPadding(10.5).tickFormat(fmt)).call(s=>styleAxis(s,FS_TICK));
  g.append("g").attr("transform",`translate(${vLeft},0)`)
    .call(d3.axisLeft(vy).tickValues(minor).tickSize(-3.5).tickFormat(()=>"")).call(s=>styleAxis(s,FS_TICK));
  g.append("g").attr("transform",`translate(${vRight},0)`)
    .call(d3.axisRight(vy).tickValues(violinMajor).tickSize(-7).tickFormat(()=>"")).call(s=>styleAxis(s,FS_TICK));
  g.append("g").attr("transform",`translate(${vRight},0)`)
    .call(d3.axisRight(vy).tickValues(minor).tickSize(-3.5).tickFormat(()=>"")).call(s=>styleAxis(s,FS_TICK));
  g.append("g").attr("transform",`translate(0,${vTop})`)
    .call(d3.axisTop(vx).tickSize(-7).tickFormat(()=>"")).call(s=>styleAxis(s,FS_TICK));
  g.append("g").attr("transform",`translate(0,${vBot})`)
    .call(d3.axisBottom(vx).tickSize(-7).tickPadding(7)).call(s=>styleAxis(s,17.5));
  g.append("rect").attr("x",vLeft).attr("y",vTop).attr("width",vRight-vLeft).attr("height",vBot-vTop)
    .attr("fill","none").attr("stroke","#000").attr("stroke-width",1.5);
  svg.append("text").attr("x",vx("Pink")).attr("y",20.5).attr("text-anchor","middle").style("font-size",FS_TITLE+"px").text("Avg. performance");
}
</script>
</body></html>
